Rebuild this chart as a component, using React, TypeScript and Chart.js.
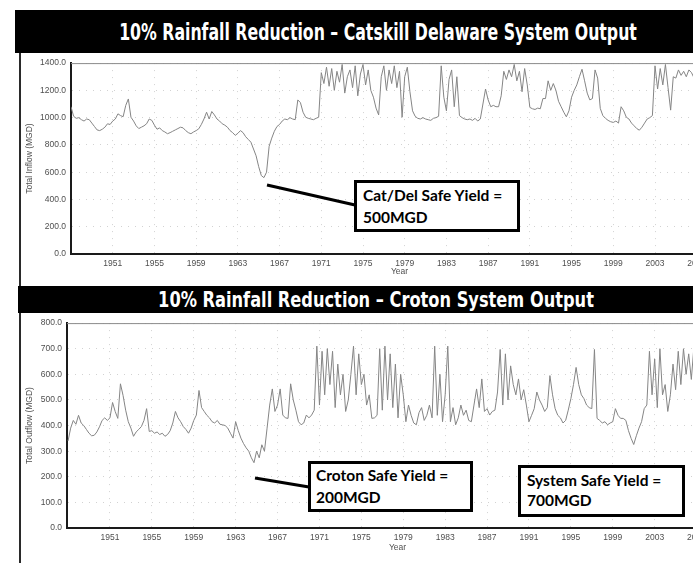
import React, { useEffect, useLayoutEffect, useRef } from 'react';
import { Chart, registerables } from 'chart.js';

Chart.register(...registerables);

// ---------- DATA ----------
const yearTicks = [1951, 1955, 1959, 1963, 1967, 1971, 1975, 1979, 1983, 1987, 1991, 1995, 1999, 2003, 2007];
const catDelYTicks = [0, 200, 400, 600, 800, 1000, 1200, 1400];
const crotonYTicks = [0, 100, 200, 300, 400, 500, 600, 700, 800];
const dataStartYear = 1947;
const pointsPerYear = 4;

// Catskill Delaware total inflow (MGD), quarterly readings
const catDel1947to1956 = [
  1080, 1010, 995, 1000,
  985, 975, 990, 985,
  960, 935, 910, 905,
  915, 930, 955, 950,
  975, 990, 1028, 1015,
  1007, 1090, 1137, 1003,
  975, 940, 920, 930,
  940, 955, 990, 980,
  945, 915, 925, 905,
  895, 882, 890, 900,
];
const catDel1957to1966 = [
  910, 920, 930, 925,
  905, 890, 882, 895,
  905, 918, 950, 990,
  1040, 990, 1045, 1020,
  990, 975, 955, 945,
  930, 905, 890, 870,
  885, 905, 890, 860,
  840, 820, 770, 720,
  640, 575, 560, 600,
  790, 850, 900, 935,
];
const catDel1967to1976 = [
  950, 975, 990, 985,
  1000, 990, 985, 1130,
  1110, 1040, 1003, 995,
  990, 985, 995, 1003,
  1330, 1250, 1370, 1230,
  1360, 1200, 1340, 1260,
  1390, 1180, 1300, 1350,
  1220, 1380, 1160, 1320,
  1390, 1240, 1350, 1200,
  1150, 1070, 1020, 1300,
];
const catDel1977to1986 = [
  1380, 1200, 1350, 1250,
  1380, 1220, 1340, 1003,
  1300, 1370, 1190, 1050,
  1010, 995, 990, 1000,
  990, 985, 980, 995,
  1000, 1010, 1380, 1150,
  1050, 1280, 1350, 1080,
  1300, 1015, 1000, 990,
  985, 990, 980, 995,
  975, 990, 1100, 1210,
];
const catDel1987to1996 = [
  1130, 1080, 1090, 1080,
  1080, 1160, 1340, 1280,
  1350, 1300, 1390, 1270,
  1340, 1190, 1360, 1240,
  1075, 1065, 1060, 1070,
  1065, 1140, 1140, 1270,
  1200, 1250, 1200, 1120,
  1080, 1040, 1006, 1050,
  1150, 1200, 1240, 1300,
  1355, 1270, 1180, 1130,
];
const catDel1997to2007 = [
  1140, 1350, 1290, 1068,
  1015, 995, 980, 970,
  965, 975, 960, 1080,
  1050, 1003, 990, 960,
  940, 920, 908, 930,
  960, 990, 1000, 1015,
  1380, 1210, 1360, 1240,
  1390, 1220, 1055, 1300,
  1290, 1350, 1310, 1340,
  1300, 1350, 1330, 1290,
  1320, 1280, 1350, 1300,
];

// Croton total outflow (MGD), quarterly readings
const croton1947to1956 = [
  340, 390, 420, 405,
  440, 410, 400, 385,
  370, 360, 362, 375,
  395, 420, 430, 420,
  430, 490, 455, 428,
  563, 518, 460, 415,
  390, 358, 375, 385,
  396, 420, 466, 377,
  380, 370, 375, 365,
  370, 358, 365, 380,
];
const croton1957to1966 = [
  410, 455, 430, 415,
  396, 385, 370, 390,
  420, 441, 537, 470,
  455, 440, 430, 415,
  410, 420, 405, 403,
  400, 390, 370, 351,
  415, 380, 351, 330,
  313, 300, 274, 255,
  300, 274, 325, 300,
  390, 480, 543, 455,
];
const croton1967to1976 = [
  480, 543, 441, 430,
  428, 563, 500, 460,
  415, 403, 410, 441,
  430, 441, 460, 710,
  480, 690, 520, 700,
  560, 690, 470, 640,
  520, 600, 455, 500,
  600, 710, 520, 680,
  560, 600, 480, 520,
  428, 430, 440, 700,
];
const croton1977to1986 = [
  460, 710, 500, 680,
  470, 640, 430, 600,
  520, 415, 480, 440,
  410, 403, 450, 470,
  420, 440, 480, 430,
  710, 440, 600, 415,
  520, 710, 415, 470,
  403, 430, 480, 440,
  460, 420, 415, 480,
  543, 470, 582, 455,
];
const croton1987to1996 = [
  466, 441, 455, 460,
  531, 697, 480, 680,
  500, 633, 560, 520,
  582, 500, 540, 480,
  415, 440, 466, 531,
  500, 480, 455, 470,
  595, 520, 466, 440,
  430, 410, 420, 460,
  505, 560, 627, 560,
  520, 505, 480, 470,
];
const croton1997to2007 = [
  466, 697, 428, 420,
  410, 415, 403, 410,
  415, 466, 440, 428,
  428, 420, 380, 350,
  326, 360, 390, 415,
  466, 480, 690, 520,
  660, 470, 700, 520,
  560, 455, 520, 640,
  540, 690, 560, 700,
  600, 680, 580, 710,
  650, 600, 690, 620,
];

const catDelSeries = [catDel1947to1956, catDel1957to1966, catDel1967to1976, catDel1977to1986, catDel1987to1996, catDel1997to2007];
const crotonSeries = [croton1947to1956, croton1957to1966, croton1967to1976, croton1977to1986, croton1987to1996, croton1997to2007];

function toPoints(parts: number[][]) {
  const flat = ([] as number[]).concat(...parts);
  return flat.map((v, i) => ({ x: dataStartYear + i / pointsPerYear, y: v }));
}

// ---------- CHART ----------
const TICK_COLOR = '#4f4f4f';
const tickFont = { family: '"Liberation Sans", Arial, sans-serif', size: 8.5 };

const framePlugin = {
  id: 'frameTop',
  afterDraw(chart: any) {
    const { ctx, chartArea: a } = chart;
    ctx.save();
    ctx.strokeStyle = '#8c8c8c';
    ctx.lineWidth = 1;
    ctx.beginPath();
    ctx.moveTo(a.left, a.top + 0.5);
    ctx.lineTo(a.right, a.top + 0.5);
    ctx.stroke();
    ctx.restore();
  },
};

type Cfg = {
  points: { x: number; y: number }[];
  yTicks: number[];
  yTitle: string;
  xMin: number;
  xMax: number;
  yAxisWidth: number;
  xAxisHeight: number;
  padTop: number;
  padRight: number;
  yearPad: number;
};

function makeChart(canvas: HTMLCanvasElement, c: Cfg) {
  const gridCommon = { color: '#d2d2d2', lineWidth: 1, drawTicks: false };
  const borderCommon = { color: '#1a1a1a', width: 2, dash: [1, 6] };
  return new Chart(canvas, {
    type: 'line',
    data: {
      datasets: [
        {
          data: c.points,
          borderColor: '#858585',
          borderWidth: 1,
          pointRadius: 0,
          fill: false,
          tension: 0,
        },
      ],
    },
    options: {
      animation: false,
      responsive: false,
      maintainAspectRatio: false,
      events: [],
      layout: { padding: { top: c.padTop, right: c.padRight, left: 0, bottom: 0 } },
      plugins: { legend: { display: false }, tooltip: { enabled: false }, title: { display: false } },
      scales: {
        x: {
          type: 'linear',
          min: c.xMin,
          max: c.xMax,
          afterBuildTicks: (s: any) => {
            s.ticks = yearTicks.map((v) => ({ value: v }));
          },
          afterFit: (s: any) => {
            s.height = c.xAxisHeight;
          },
          ticks: {
            callback: (v: any) => String(v),
            font: tickFont,
            color: TICK_COLOR,
            padding: 5,
            maxRotation: 0,
            autoSkip: false,
          },
          grid: gridCommon,
          border: borderCommon,
          title: {
            display: true,
            text: 'Year',
            font: tickFont,
            color: TICK_COLOR,
            padding: { top: 0, bottom: c.yearPad },
          },
        },
        y: {
          type: 'linear',
          min: 0,
          max: c.yTicks[c.yTicks.length - 1],
          afterBuildTicks: (s: any) => {
            s.ticks = c.yTicks.map((v) => ({ value: v }));
          },
          afterFit: (s: any) => {
            s.width = c.yAxisWidth;
          },
          ticks: {
            callback: (v: any) => Number(v).toFixed(1),
            font: tickFont,
            color: TICK_COLOR,
            padding: 5,
          },
          grid: gridCommon,
          border: borderCommon,
          title: {
            display: true,
            text: c.yTitle,
            font: tickFont,
            color: TICK_COLOR,
            padding: { top: 5, bottom: 0 },
          },
        },
      },
    },
    plugins: [framePlugin],
  } as any);
}

function ChartCanvas(props: { cfg: Cfg; left: number; top: number; width: number; height: number }) {
  const ref = useRef<HTMLCanvasElement | null>(null);
  useEffect(() => {
    if (!ref.current) return;
    const ch = makeChart(ref.current, props.cfg);
    return () => ch.destroy();
  }, []);
  return (
    <canvas
      ref={ref}
      width={props.width}
      height={props.height}
      style={{ position: 'absolute', left: props.left, top: props.top, width: props.width, height: props.height }}
    />
  );
}

function TitleBar(props: { text: string; left: number; top: number; width: number; height: number; centerX: number; targetWidth: number; fontSize: number }) {
  const ref = useRef<HTMLSpanElement | null>(null);
  useLayoutEffect(() => {
    const el = ref.current;
    if (!el) return;
    const w = el.offsetWidth;
    const k = w > 0 ? props.targetWidth / w : 1;
    el.style.transform = `translate(-50%, -50%) scaleX(${k})`;
  }, []);
  return (
    <div
      style={{
        position: 'absolute',
        left: props.left,
        top: props.top,
        width: props.width,
        height: props.height,
        background: '#000',
      }}
    >
      <span
        ref={ref}
        style={{
          position: 'absolute',
          left: props.centerX - props.left,
          top: props.height / 2,
          transform: 'translate(-50%, -50%)',
          whiteSpace: 'nowrap',
          color: '#fff',
          fontFamily: '"Liberation Sans Narrow", "DejaVu Sans Condensed", "Roboto Condensed", "Liberation Sans", sans-serif',
          fontStretch: 'condensed',
          fontWeight: 700,
          fontSize: props.fontSize,
          lineHeight: 1,
        }}
      >
        {props.text}
      </span>
    </div>
  );
}

function NoteBox(props: { lines: string[]; left: number; top: number; width: number; height: number; padLeft: number; padTop: number; lineHeight: number; fontSize: number }) {
  return (
    <div
      style={{
        position: 'absolute',
        left: props.left,
        top: props.top,
        width: props.width,
        height: props.height,
        boxSizing: 'border-box',
        border: '3px solid #000',
        background: '#fff',
        paddingLeft: props.padLeft,
        paddingTop: props.padTop,
        fontFamily: 'Lato, "Open Sans", sans-serif',
        fontWeight: 700,
        fontSize: props.fontSize,
        lineHeight: `${props.lineHeight}px`,
        color: '#000',
        whiteSpace: 'nowrap',
      }}
    >
      {props.lines.map((l, i) => (
        <div key={i}>{l}</div>
      ))}
    </div>
  );
}

export default function App() {
  const catDelCfg: Cfg = {
    points: toPoints(catDelSeries),
    yTicks: catDelYTicks,
    yTitle: 'Total Inflow (MGD)',
    xMin: 1947.0,
    xMax: 2010.0,
    yAxisWidth: 51,
    xAxisHeight: 26,
    padTop: 9,
    padRight: 22,
    yearPad: 3,
  };
  const crotonCfg: Cfg = {
    points: toPoints(crotonSeries),
    yTicks: crotonYTicks,
    yTitle: 'Total Outflow (MGD)',
    xMin: 1946.9,
    xMax: 2010.0,
    yAxisWidth: 47,
    xAxisHeight: 35,
    padTop: 7,
    padRight: 22,
    yearPad: 10,
  };

  return (
    <div
      style={{
        position: 'absolute',
        left: 0,
        top: 0,
        width: 693,
        height: 563,
        overflow: 'hidden',
        background: '#fff',
      }}
    >
      <ChartCanvas cfg={catDelCfg} left={20} top={53} width={730} height={227} />
      <ChartCanvas cfg={crotonCfg} left={20} top={313} width={730} height={250} />

      <div style={{ position: 'absolute', left: 19, top: 50, width: 2, height: 513, background: '#2a2a2a' }} />

      <TitleBar
        text="10% Rainfall Reduction – Catskill Delaware System Output"
        left={15}
        top={10}
        width={678}
        height={43}
        centerX={378}
        targetWidth={518}
        fontSize={23}
      />
      <TitleBar
        text="10% Rainfall Reduction – Croton System Output"
        left={18}
        top={286}
        width={675}
        height={27}
        centerX={376}
        targetWidth={436}
        fontSize={22}
      />

      <svg width={693} height={563} style={{ position: 'absolute', left: 0, top: 0 }}>
        <line x1={267} y1={185} x2={355} y2={205} stroke="#000" strokeWidth={3} />
        <line x1={255} y1={478} x2={309} y2={487} stroke="#000" strokeWidth={3} />
      </svg>

      <NoteBox lines={['Cat/Del Safe Yield =', '500MGD']} left={354} top={180} width={166} height={52} padLeft={6} padTop={1} lineHeight={22} fontSize={15.5} />
      <NoteBox lines={['Croton Safe Yield =', '200MGD']} left={308} top={461} width={165} height={51} padLeft={5} padTop={0} lineHeight={22} fontSize={15.5} />
      <NoteBox lines={['System Safe Yield =', '700MGD']} left={518} top={465} width={167} height={52} padLeft={6} padTop={2} lineHeight={20} fontSize={15.5} />
    </div>
  );
}
